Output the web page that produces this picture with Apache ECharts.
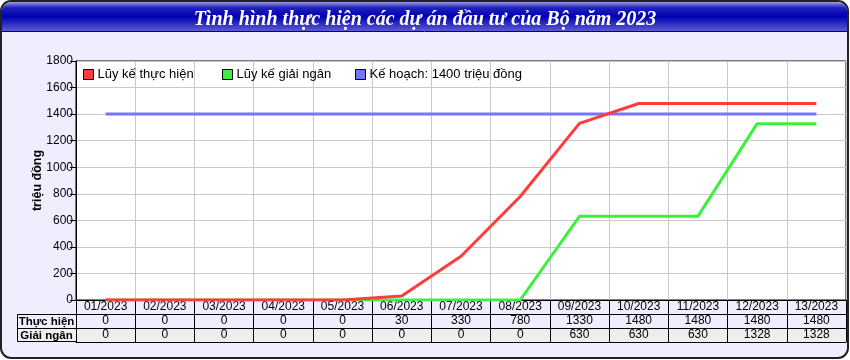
<!DOCTYPE html>
<html>
<head>
<meta charset="utf-8">
<script src="https://cdn.jsdelivr.net/npm/echarts@6/dist/echarts.min.js"></script>
<style>
html,body{margin:0;padding:0;background:#fff;}
#c{width:850px;height:360px;}
</style>
</head>
<body>
<div id="c"></div>
<script>
var titleText = 'Tình hình thực hiện các dự án đầu tư của Bộ năm 2023';
var categories = ['01/2023','02/2023','03/2023','04/2023','05/2023','06/2023','07/2023','08/2023','09/2023','10/2023','11/2023','12/2023','13/2023'];
var thucHien = [0,0,0,0,0,30,330,780,1330,1480,1480,1480,1480];
var giaiNgan = [0,0,0,0,0,0,0,0,630,630,630,1328,1328];
var keHoach = [1400,1400,1400,1400,1400,1400,1400,1400,1400,1400,1400,1400,1400];
var seriesNames = ['Lũy kế thực hiện','Lũy kế giải ngân','Kế hoạch: 1400 triệu đồng'];
var rowHeaders = ['Thực hiện','Giải ngân'];
var yAxisName = 'triệu đồng';

var FONT = '"Liberation Sans", Arial, sans-serif';
var chart = echarts.init(document.getElementById('c'), null, {renderer:'canvas'});

var L = 76, R = 846, T = 61, B = 300, ROW = 14;

function tableAxis(offset, values, show) {
  return {
    type:'category', data: categories, position:'bottom', offset: offset,
    boundaryGap:true,
    axisLine:{show:true, onZero:false, lineStyle:{color:'#000', width:1}},
    axisTick:{show:false},
    splitLine:{show:false},
    axisLabel:{show:show, interval:0, margin:1, color:'#000', fontSize:12, fontFamily:FONT,
      formatter:function(v, i){ return values ? String(values[i]) : v; }}
  };
}

var option = {
  animation:false,
  backgroundColor:'transparent',
  graphic:[
    {type:'rect', z:-20, shape:{x:1, y:1, width:847, height:357, r:10}, style:{fill:'#EEEEFF', stroke:'#222', lineWidth:2}},
    {type:'rect', z:-19, shape:{x:2, y:2, width:845, height:29, r:[9,9,0,0]},
      style:{fill:new echarts.graphic.LinearGradient(0,0,0,1,[
        {offset:0, color:'#9a9ae8'},{offset:0.2, color:'#2020c0'},{offset:0.5, color:'#0000b0'},{offset:1, color:'#5a5ad8'}])}},
    {type:'line', z:-18, shape:{x1:2, y1:31.5, x2:847, y2:31.5}, style:{stroke:'#111', lineWidth:1}},
    {type:'rect', z:-18, shape:{x:L, y:B+ROW*2, width:R-L, height:ROW}, style:{fill:'#EEEEEE'}},
    {type:'rect', z:-18, shape:{x:17, y:B+ROW*2, width:L-17, height:ROW}, style:{fill:'#EEEEEE'}},
    {type:'rect', z:5, shape:{x:17.5, y:B+ROW+0.5, width:L-17, height:ROW*2-1}, style:{fill:'none', stroke:'#000', lineWidth:1}},
    {type:'line', z:5, shape:{x1:17, y1:B+ROW*2+0.5, x2:L, y2:B+ROW*2+0.5}, style:{stroke:'#000', lineWidth:1}},
    {type:'text', z:6, style:{x:(17+L)/2, y:B+ROW*1.5+0.5, text:rowHeaders[0], textAlign:'center', textVerticalAlign:'middle', fill:'#000', font:'bold 11.5px '+FONT}},
    {type:'text', z:6, style:{x:(17+L)/2, y:B+ROW*2.5+0.5, text:rowHeaders[1], textAlign:'center', textVerticalAlign:'middle', fill:'#000', font:'bold 11.5px '+FONT}}
  ],
  title:{text:titleText, left:'center', top:5,
    textStyle:{color:'#fff', fontSize:20, fontWeight:'bold', fontStyle:'italic', fontFamily:'"Liberation Serif", "Times New Roman", serif'}},
  legend:[
    {data:[seriesNames[0]], left:83, top:68},
    {data:[seriesNames[1]], left:222, top:68},
    {data:[seriesNames[2]], left:355, top:68}
  ].map(function(l){
    l.icon='rect'; l.itemWidth=10; l.itemHeight=10; l.itemGap=5;
    l.padding=0;
    l.itemStyle={borderColor:'#000', borderWidth:1};
    l.textStyle={color:'#000', fontSize:13, fontFamily:FONT, padding:[0,0,0,-1]};
    return l;
  }),
  grid:{left:L, right:850-R, top:T, bottom:360-B, show:true, backgroundColor:'#fff', borderColor:'#000', borderWidth:1},
  xAxis:[
    {
      type:'category', data:categories, position:'bottom', boundaryGap:true,
      axisLine:{show:true, onZero:false, lineStyle:{color:'#000', width:1}},
      axisTick:{show:true, interval:0, length:ROW*3, lineStyle:{color:'#000', width:1}},
      splitLine:{show:true, interval:0, lineStyle:{color:'#c8c8c8', width:1}},
      axisLabel:{interval:0, margin:1, color:'#000', fontSize:12, fontFamily:FONT}
    },
    tableAxis(ROW, thucHien, true),
    tableAxis(ROW*2, giaiNgan, true),
    tableAxis(ROW*3, null, false)
  ],
  yAxis:{
    type:'value', min:0, max:1800, interval:200,
    name:yAxisName, nameLocation:'middle', nameGap:32, nameRotate:90, nameMoveOverlap:false,
    nameTextStyle:{color:'#000', fontSize:12.5, fontWeight:'bold', fontFamily:FONT},
    axisLine:{show:true, lineStyle:{color:'#000'}},
    axisTick:{show:true, length:6, lineStyle:{color:'#000'}},
    axisLabel:{color:'#000', fontSize:12, fontFamily:FONT, margin:3, formatter:function(v){return String(v);}},
    splitLine:{show:true, lineStyle:{color:'#c8c8c8', width:1}}
  },
  series:[
    {name:seriesNames[1], type:'line', data:giaiNgan, xAxisIndex:0, showSymbol:false, symbol:'none', z:3,
      color:'#3cf03c', lineStyle:{color:'#3cf03c', width:3}},
    {name:seriesNames[2], type:'line', data:keHoach, xAxisIndex:0, showSymbol:false, symbol:'none', z:2,
      color:'#7474ff', lineStyle:{color:'#7474ff', width:3}},
    {name:seriesNames[0], type:'line', data:thucHien, xAxisIndex:0, showSymbol:false, symbol:'none', z:4,
      color:'#ff3c3c', lineStyle:{color:'#ff3c3c', width:3}}
  ]
};
chart.setOption(option);
</script>
</body>
</html>
